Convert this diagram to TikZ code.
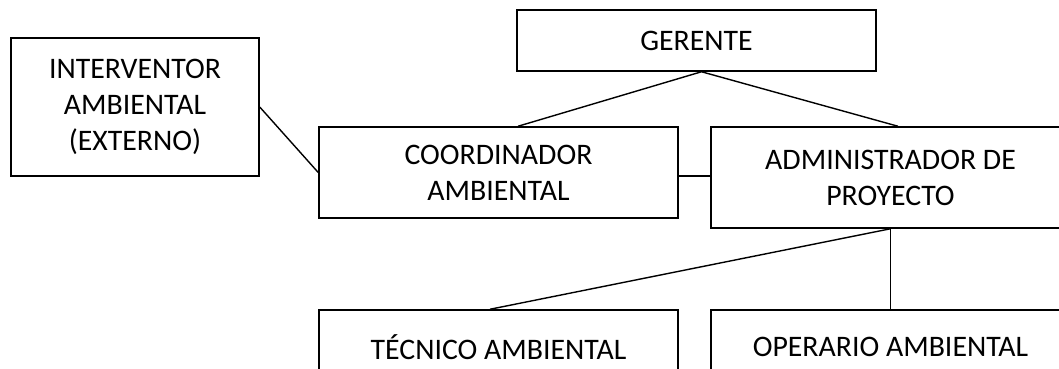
\documentclass[tikz,border=0pt]{standalone}
\usepackage{fontspec}
\setmainfont{Carlito}
\tikzset{
  cargo/.style={draw, line width=1.5pt, rectangle, align=center, inner sep=0pt,
    font=\fontsize{29.8}{36}\selectfont},
  enlace/.style={line width=1.4pt}
}
\begin{document}
\begin{tikzpicture}[x=1pt,y=-1pt]
      \clip (0,0) rectangle (1059,368);
      \fill[white] (0,0) rectangle (1059,368);

      %%%%%%%%%%%%%%%%%%%%%%%%%%%%%%%%%%%%%%%%%%%%%%%%%%%%%%%%%%%%%%%%%%%%%%%%%%%
      %%%%  Cargos
      \node[cargo, minimum width=359pt, minimum height=61pt] (gerente) at (696.5,40.5) {GERENTE};
      \node[cargo, minimum width=248pt, minimum height=138pt] (interventor) at (135,107)
        {INTERVENTOR\\AMBIENTAL\\(EXTERNO)};
      \node[cargo, minimum width=359pt, minimum height=91pt] (coordinador) at (498.5,172.5)
        {COORDINADOR\\AMBIENTAL};
      \node[cargo, minimum width=359pt, minimum height=101pt] (administrador) at (890.5,177.5)
        {ADMINISTRADOR DE\\PROYECTO};
      \node[cargo, minimum width=359pt, minimum height=74pt] (tecnico) at (498.5,347)
        {TÉCNICO AMBIENTAL};
      \node[cargo, minimum width=359pt, minimum height=74pt] (operario) at (890.5,347)
        {OPERARIO AMBIENTAL};

      %%%%%%%%%%%%%%%%%%%%%%%%%%%%%%%%%%%%%%%%%%%%%%%%%%%%%%%%%%%%%%%%%%%%%%%%%%%
      %%%%  Enlaces
      \draw[enlace] ([xshift=5pt]gerente.south) -- ([xshift=19.5pt]coordinador.north);
      \draw[enlace] ([xshift=5pt]gerente.south) -- ([xshift=7.5pt]administrador.north);
      \draw[enlace] (interventor.east) -- (coordinador.west);
      \draw[enlace] ([yshift=-3.5pt]coordinador.east) -- ([yshift=-3.5pt]coordinador.east -| administrador.west);
      \draw[enlace] (administrador.south) -- (operario.north);
      \draw[enlace] (administrador.south) -- ([xshift=-8.5pt]tecnico.north);
\end{tikzpicture}
\end{document}
